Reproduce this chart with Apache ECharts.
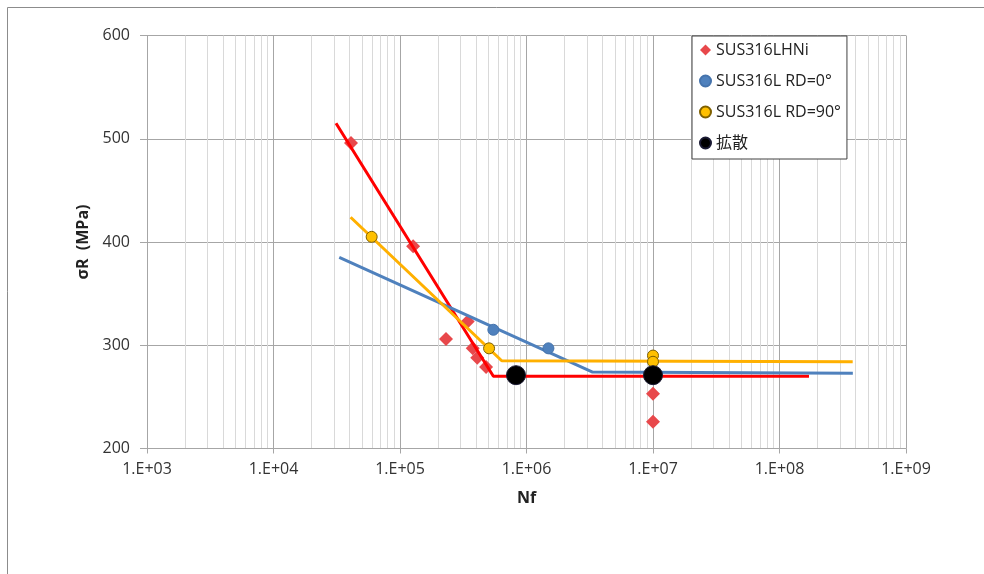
<!DOCTYPE html>
<html>
<head>
<meta charset="utf-8">
<title>σR - Nf</title>
<script src="https://cdn.jsdelivr.net/npm/echarts@6/dist/echarts.min.js"></script>
<style>
  html, body { margin: 0; padding: 0; background: #fff; }
  #chart { width: 984px; height: 574px; }
</style>
</head>
<body>
<div id="chart"></div>
<script>
// Fatigue strength vs. number of cycles, per material
const seriesNames = ['SUS316LHNi', 'SUS316L RD=0°', 'SUS316L RD=90°', '拡散'];

// measured points [Nf, σR]
const hniPoints = [
  [4.1e4, 496], [1.27e5, 396], [2.31e5, 306], [3.43e5, 323],
  [3.76e5, 297], [4.08e5, 288], [4.79e5, 279], [1.0e7, 253], [1.0e7, 226]
];
const rd0Points = [[5.47e5, 315], [1.49e6, 297]];
const rd90Points = [[5.97e4, 405], [5.06e5, 297], [1.0e7, 290], [1.0e7, 284]];
const diffusionPoints = [[8.26e5, 271], [1.0e7, 271]];

// fitted S-N curves (knee + endurance limit)
const hniCurve = [[3.12e4, 515], [5.47e5, 270], [1.71e8, 270]];
const rd0Curve = [[3.31e4, 385], [3.33e6, 274], [3.8e8, 273]];
const rd90Curve = [[4.07e4, 424], [6.37e5, 285], [3.79e8, 284]];

// axis ticks
const xTickLabels = ['1.E+03', '1.E+04', '1.E+05', '1.E+06', '1.E+07', '1.E+08', '1.E+09'];
const yTicks = [200, 300, 400, 500, 600];

const FONT = '"Open Sans", "Noto Sans CJK JP", sans-serif';

// light gridlines at 2..9 within every decade
const minorLines = [];
for (let e = 3; e < 9; e++) {
  for (let m = 2; m <= 9; m++) minorLines.push({ xAxis: m * Math.pow(10, e) });
}

const chart = echarts.init(document.getElementById('chart'), null, { renderer: 'canvas' });

chart.setOption({
  animation: false,
  backgroundColor: '#ffffff',
  textStyle: { fontFamily: FONT },
  graphic: [{
    type: 'rect',
    silent: true,
    shape: { x: 7.5, y: 7.5, width: 1200, height: 800 },
    style: { fill: 'none', stroke: '#8c8c8c', lineWidth: 1 },
    z: -10
  }],
  grid: { left: 147, right: 78, top: 35.5, bottom: 125.5, containLabel: false },
  legend: {
    data: seriesNames,
    orient: 'vertical',
    left: 692,
    top: 36,
    padding: [6, 6, 8, 7],
    itemGap: 15,
    itemWidth: 11,
    itemHeight: 11,
    backgroundColor: '#ffffff',
    borderColor: '#404040',
    borderWidth: 1,
    borderRadius: 0,
    z: 20,
    textStyle: { fontFamily: FONT, fontSize: 16, color: '#222' }
  },
  xAxis: {
    type: 'log',
    logBase: 10,
    min: 1e3,
    max: 1e9,
    interval: 1,
    name: 'Nf',
    nameLocation: 'middle',
    nameGap: 42,
    nameTextStyle: { fontFamily: FONT, fontSize: 16, fontWeight: 'bold', color: '#222' },
    axisLine: { show: true, onZero: false, lineStyle: { color: '#a6a6a6', width: 1 } },
    axisTick: { show: true, inside: false, length: 5, lineStyle: { color: '#a6a6a6' } },
    axisLabel: {
      margin: 13,
      fontFamily: FONT,
      fontSize: 16,
      color: '#333',
      formatter: v => xTickLabels[Math.round(Math.log10(v)) - 3]
    },
    splitLine: { show: true, lineStyle: { color: '#a6a6a6', width: 1 } },
    minorTick: { show: false },
    minorSplitLine: { show: false }
  },
  yAxis: {
    type: 'value',
    min: yTicks[0],
    max: yTicks[yTicks.length - 1],
    interval: 100,
    name: 'σR  (MPa)',
    nameLocation: 'middle',
    nameGap: 48,
    nameRotate: 90,
    nameTextStyle: { fontFamily: FONT, fontSize: 16, fontWeight: 'bold', color: '#222' },
    axisLine: { show: true, lineStyle: { color: '#a6a6a6', width: 1 } },
    axisTick: { show: true, inside: false, length: 7, lineStyle: { color: '#a6a6a6' } },
    axisLabel: { margin: 17, fontFamily: FONT, fontSize: 16, color: '#333' },
    splitLine: { show: true, lineStyle: { color: '#a6a6a6', width: 1 } }
  },
  series: [
    {
      name: 'minor-grid',
      type: 'line',
      data: [],
      silent: true,
      z: 0,
      markLine: {
        silent: true,
        z: 0,
        symbol: ['none', 'none'],
        label: { show: false },
        animation: false,
        lineStyle: { type: 'solid', color: '#d9d9d9', width: 1 },
        emphasis: { disabled: true },
        data: minorLines
      }
    },
    {
      name: seriesNames[0],
      type: 'scatter',
      data: hniPoints,
      symbol: 'diamond',
      symbolSize: 14,
      itemStyle: { color: '#e8484b', opacity: 1 },
      z: 10
    },
    {
      name: 'hni-curve',
      type: 'line',
      data: hniCurve,
      symbol: 'none',
      lineStyle: { color: '#ff0000', width: 3 },
      z: 11
    },
    {
      name: 'rd0-curve',
      type: 'line',
      data: rd0Curve,
      symbol: 'none',
      lineStyle: { color: '#4f81bd', width: 3 },
      z: 11
    },
    {
      name: 'rd90-curve',
      type: 'line',
      data: rd90Curve,
      symbol: 'none',
      lineStyle: { color: '#ffb000', width: 3 },
      z: 11
    },
    {
      name: seriesNames[1],
      type: 'scatter',
      data: rd0Points,
      symbol: 'circle',
      symbolSize: 11,
      itemStyle: { color: '#4f81bd', borderColor: '#4573ac', borderWidth: 1, opacity: 1 },
      z: 12
    },
    {
      name: seriesNames[2],
      type: 'scatter',
      data: rd90Points,
      symbol: 'circle',
      symbolSize: 11,
      itemStyle: { color: '#ffc000', borderColor: '#7f6000', borderWidth: 1, opacity: 1 },
      z: 12
    },
    {
      name: seriesNames[3],
      type: 'scatter',
      data: diffusionPoints,
      symbol: 'circle',
      symbolSize: 19,
      itemStyle: { color: '#000000', borderColor: '#1a1a33', borderWidth: 1, opacity: 1 },
      z: 13
    }
  ]
});
</script>
</body>
</html>
